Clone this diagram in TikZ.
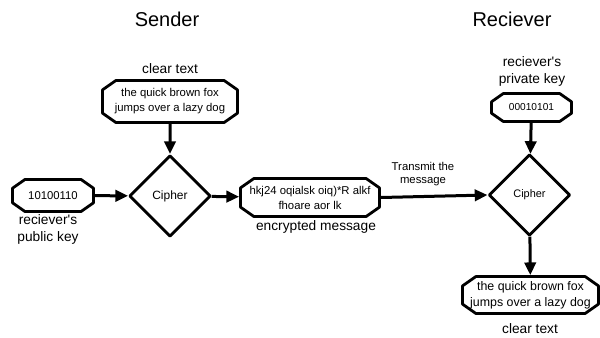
\documentclass[tikz,border=0pt]{standalone}
\usepackage{fontspec}
\setmainfont{Liberation Sans}
\usetikzlibrary{shapes.geometric,shapes.misc,arrows.meta}
\newcommand{\apos}{\textquotesingle}
\begin{document}
\begin{tikzpicture}[x=0.75pt,y=-0.75pt,
  line join=round,
  databox/.style={draw,line width=2.1pt,chamfered rectangle,
    chamfered rectangle xsep=5pt,chamfered rectangle angle=55,
    inner sep=0pt,align=center},
  cipherbox/.style={draw,line width=2.1pt,diamond,inner sep=0pt,
    minimum width=61pt,minimum height=61pt,
    font=\fontsize{9}{11}\selectfont},
  inner/.style={font=\fontsize{8.5}{11.25}\selectfont},
  caption/.style={align=center,font=\fontsize{10.3}{12.75}\selectfont},
  title/.style={font=\fontsize{15}{18}\selectfont},
  flow/.style={line width=2.25pt,-{Triangle[length=9.5pt,width=8.5pt]}}]
\useasboundingbox (0,0) rectangle (600,337);

% column titles
\node[title] (tsend) at (167,19) {Sender};
\node[title] (trecv) at (512,19) {Reciever};

% sender side
\node[caption] (lclear1) at (170,69) {clear text};
\node[databox,inner,minimum width=101.25pt,minimum height=31.5pt] (clear1) at (170,101.5)
  {the quick brown fox\\jumps over a lazy dog};
\node[cipherbox] (enc) at (170,196) {Cipher};
\node[databox,inner,minimum width=60.75pt,minimum height=24pt] (pub) at (53,195.5) {10100110};
\node[caption] (lpub) at (48,229.5) {reciever\apos s\\public key};
\node[databox,inner,font=\fontsize{8.5}{11.25}\selectfont,minimum width=104.25pt,minimum height=28.5pt] (msg) at (310,197.5)
  {hkj24 oqialsk oiq)*R alkf\\fhoare aor lk};
\node[caption] (lmsg) at (316,227) {encrypted message};

% receiver side
\node[caption] (lpriv) at (532,71.5) {reciever\apos s\\private key};
\node[databox,inner,font=\fontsize{7.6}{10}\selectfont,minimum width=60pt,minimum height=21pt] (priv) at (531.5,107.5) {00010101};
\node[cipherbox,font=\fontsize{8.2}{10}\selectfont] (dec) at (529.5,195) {Cipher};
\node[databox,inner,font=\fontsize{9.3}{12}\selectfont,minimum width=102pt,minimum height=24.75pt] (clear2) at (530.5,295)
  {the quick brown fox\\jumps over a lazy dog};
\node[caption] (lclear2) at (530,329) {clear text};

% transfer label
\node[align=center,font=\fontsize{8.5}{9.5}\selectfont] (ltx) at (423,174) {Transmit the\\message};

% connectors
\draw[flow] (clear1) -- (enc);
\draw[flow] (pub) -- (enc);
\draw[flow] (enc) -- (msg);
\draw[flow] (msg.east) -- (dec.west);
\draw[flow] (priv) -- (dec);
\draw[flow] (dec) -- (clear2);
\end{tikzpicture}
\end{document}
